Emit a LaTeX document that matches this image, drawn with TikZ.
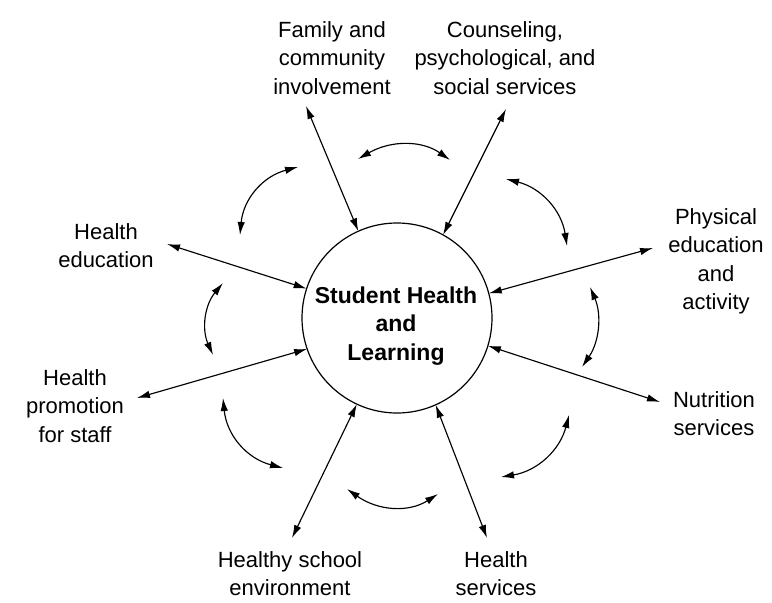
\documentclass[tikz,border=0pt]{standalone}
\usepackage{fontspec}
\setmainfont{Liberation Sans}
\usetikzlibrary{arrows.meta}
\begin{document}
\begin{tikzpicture}[x=1pt,y=-1pt,
  ink/.style={line width=1.15pt, draw=black},
  spoke/.style={ink, {Latex[length=13pt,width=7.5pt]}-{Latex[length=13pt,width=7.5pt]}},
  swing/.style={ink, {Latex[length=13pt,width=7.5pt]}-{Latex[length=13pt,width=7.5pt]}},
  lbl/.style={font=\fontsize{22pt}{28.5pt}\selectfont, align=center, inner sep=0pt, anchor=north},
  hub/.style={circle, draw, line width=1.2pt, minimum size=190pt, inner sep=0pt, outer sep=0pt}]
\useasboundingbox (0,0) rectangle (772,603);

% central circle and its title
\node[hub] (hub) at (397,318) {};
\node[lbl, font=\bfseries\fontsize{23pt}{28.5pt}\selectfont] (title) at (396,286.5) {Student Health\\and\\Learning};

% the eight components
\node[lbl] (family)    at (332,21.2)  {Family and\\community\\involvement};
\node[lbl] (counsel)   at (505,21.2)  {Counseling,\\psychological, and\\social services};
\node[lbl] (physical)  at (716,208.2) {Physical\\education\\and\\activity};
\node[lbl] (nutrition) at (714,391.2) {Nutrition\\services};
\node[lbl] (hserv)     at (496,551.2) {Health\\services};
\node[lbl] (env)       at (290,551.2) {Healthy school\\environment};
\node[lbl] (promo)     at (75,369.2)  {Health\\promotion\\for staff};
\node[lbl] (hedu)      at (106,223.2) {Health\\education};

% outer ends of the spokes, next to each label
\coordinate (familyEnd)    at (306,106);
\coordinate (counselEnd)   at (506,109);
\coordinate (physicalEnd)  at (653,248);
\coordinate (nutritionEnd) at (660,402);
\coordinate (hservEnd)     at (487,538);
\coordinate (envEnd)       at (292,538);
\coordinate (promoEnd)     at (137,398);
\coordinate (heduEnd)      at (167,244);

% spokes between the components and the circle
\draw[spoke] (familyEnd)    -- (hub.114.4);
\draw[spoke] (counselEnd)   -- (hub.61.6);
\draw[spoke] (physicalEnd)  -- (hub.15);
\draw[spoke] (nutritionEnd) -- (hub.-17.7);
\draw[spoke] (hservEnd)     -- (hub.-66.4);
\draw[spoke] (envEnd)       -- (hub.-115.2);
\draw[spoke] (promoEnd)     -- (hub.199.2);
\draw[spoke] (heduEnd)      -- (hub.162.3);

% curved arrows linking neighbouring components
\draw[swing] (358,159) .. controls (391.3,140) and (422,140.3) .. (450,160);
\draw[swing] (240,235) .. controls (243.3,199) and (262.7,176.3) .. (298,167);
\draw[swing] (506,179) .. controls (541.1,187.9) and (561.5,210.2) .. (567,246);
\draw[swing] (223,283) .. controls (204.7,304.9) and (201.4,328.9) .. (213,355);
\draw[swing] (590,287) .. controls (602,315) and (599.3,341.7) .. (582,367);
\draw[swing] (223,398) .. controls (226.7,435.2) and (246.7,458.5) .. (283,468);
\draw[swing] (347,489) .. controls (378.3,511) and (408.7,512.7) .. (438,494);
\draw[swing] (501,477) .. controls (537.1,471.1) and (559.8,450.5) .. (569,415);
\end{tikzpicture}
\end{document}
